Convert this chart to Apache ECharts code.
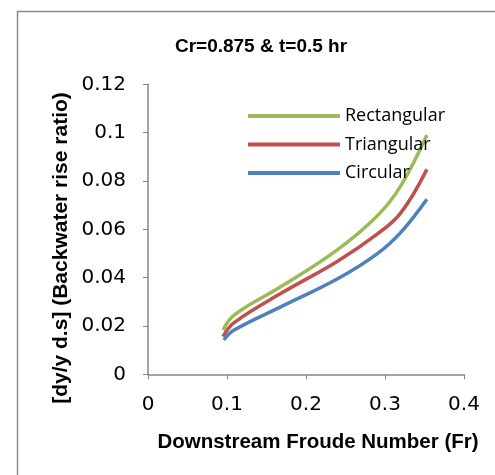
<!DOCTYPE html>
<html><head><meta charset="utf-8">
<script src="https://cdn.jsdelivr.net/npm/echarts@6/dist/echarts.min.js"></script>
<style>html,body{margin:0;padding:0;background:#fff}#c{width:495px;height:475px}</style>
</head><body><div id="c"></div>
<script>
const titleText = 'Cr=0.875 & t=0.5 hr';
const xTitle = 'Downstream Froude Number (Fr)';
const yTitle = '[dy/y d.s] (Backwater rise ratio)';
const seriesNames = ['Rectangular', 'Triangular', 'Circular'];
const seriesColors = ['#9BBB59', '#C0504D', '#4F81BD'];
const rectX = [0.095, 0.109, 0.17, 0.24, 0.29, 0.32, 0.353];
const rectY = [0.0183, 0.0245, 0.0366, 0.0516, 0.0655, 0.078, 0.099];
const triX = [0.095, 0.109, 0.17, 0.24, 0.29, 0.32, 0.353];
const triY = [0.0156, 0.0214, 0.0338, 0.0468, 0.058, 0.0668, 0.0848];
const circX = [0.096, 0.109, 0.17, 0.24, 0.29, 0.32, 0.353];
const circY = [0.0142, 0.0183, 0.0282, 0.0395, 0.0498, 0.0587, 0.0724];
const xTicks = [0, 0.1, 0.2, 0.3, 0.4];
const yTicks = [0, 0.02, 0.04, 0.06, 0.08, 0.1, 0.12];

const zip = (a, b) => a.map((v, i) => [v, b[i]]);
const dataSets = [zip(rectX, rectY), zip(triX, triY), zip(circX, circY)];
const fontFam = 'DejaVu Sans';
const chart = echarts.init(document.getElementById('c'), null, {renderer: 'canvas'});
chart.setOption({
  animation: false,
  backgroundColor: '#fff',
  title: {
    text: titleText, left: 256, top: 32, textAlign: 'center',
    textStyle: {fontFamily: 'Liberation Sans', fontWeight: 'bold', fontSize: 19, color: '#000'}
  },
  graphic: [{
    type: 'rect', left: 15, top: 9, shape: {width: 520, height: 520},
    style: {fill: 'none', stroke: '#8c8c8c', lineWidth: 1.5}, silent: true
  }, {
    type: 'text', x: 61, y: 248, rotation: Math.PI / 2, silent: true,
    style: {text: yTitle, fill: '#000', font: 'bold 21px "Liberation Sans"', align: 'center', verticalAlign: 'middle'}
  }],
  legend: {
    show: true, left: 243, top: 102, orient: 'vertical', itemGap: 10.5,
    itemWidth: 92, itemHeight: 22,
    icon: 'path://M0,0 L92,0 L92,4 L0,4 Z',
    data: seriesNames,
    textStyle: {fontFamily: 'Open Sans', fontSize: 18, color: '#000'}
  },
  grid: {left: 148, right: 31, top: 84.3, bottom: 100.7, containLabel: false, outerBoundsMode: 'none'},
  xAxis: {
    type: 'value', min: 0, max: 0.4, interval: 0.1,
    name: xTitle, nameLocation: 'middle', nameGap: 58,
    nameTextStyle: {fontFamily: 'Liberation Sans', fontWeight: 'bold', fontSize: 20.5, color: '#000', padding: [0, 0, 0, 24]},
    axisLine: {lineStyle: {color: '#868686', width: 1.5}},
    axisTick: {show: true, length: 5, lineStyle: {color: '#868686'}},
    axisLabel: {fontFamily: fontFam, fontSize: 20, color: '#000', margin: 20,
      formatter: v => xTicks.includes(+v.toFixed(2)) ? String(+v.toFixed(2)) : ''},
    splitLine: {show: false}
  },
  yAxis: {
    type: 'value', min: 0, max: 0.12, interval: 0.02,
    axisLine: {show: true, lineStyle: {color: '#868686', width: 1.5}},
    axisTick: {show: true, length: 5, lineStyle: {color: '#868686'}},
    axisLabel: {fontFamily: fontFam, fontSize: 20, color: '#000', margin: 22,
      formatter: v => yTicks.includes(+v.toFixed(2)) ? String(+v.toFixed(2)) : ''},
    splitLine: {show: false}
  },
  series: seriesNames.map((n, i) => ({
    name: n, type: 'line', data: dataSets[i], smooth: 0.4, showSymbol: false,
    lineStyle: {color: seriesColors[i], width: 3.5}, itemStyle: {color: seriesColors[i]}
  }))
});
</script></body></html>
